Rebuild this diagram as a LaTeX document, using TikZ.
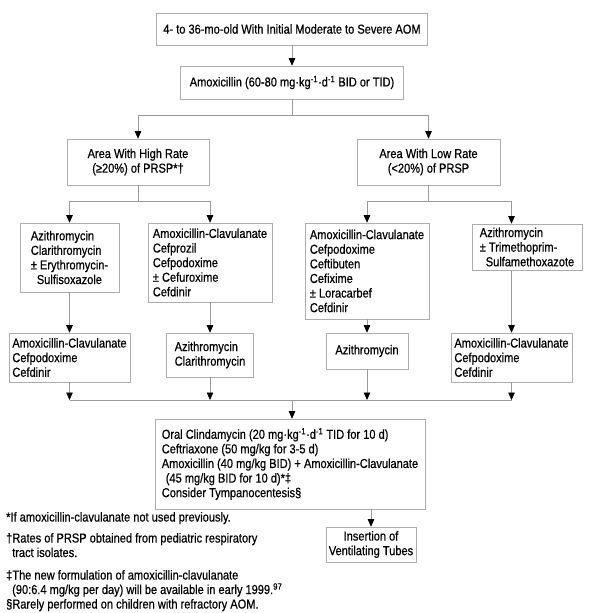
\documentclass[tikz,border=0pt]{standalone}
\usepackage{fontspec}
\setmainfont{Liberation Sans}[FakeStretch=0.85,FakeBold=0.6]
\usetikzlibrary{arrows.meta}
\definecolor{framegray}{gray}{0.68}
\definecolor{wiregray}{gray}{0.6}

\begin{document}
\begin{tikzpicture}[
    x=1pt, y=-1pt,
    box/.style={draw=framegray, line width=0.6pt, inner sep=0pt, align=center, font=\fontsize{13}{14.6}\selectfont},
    list/.style={box, align=left},
    wire/.style={draw=wiregray, line width=0.6pt},
    arr/.style={wire, -{Triangle[width=6.5pt,length=7.5pt,black]}},
    note/.style={inner sep=0pt, anchor=base west, font=\fontsize{13}{14.6}\selectfont},
]
\useasboundingbox (0,0) rectangle (590,613);

% Start
\node[box, minimum width=271, minimum height=32] (top) at (292,29) {4- to 36-mo-old With Initial Moderate to Severe AOM};
\node[box, minimum width=223, minimum height=33] (amox) at (292,82.5) {Amoxicillin (60-80 mg·kg\textsuperscript{-1}·d\textsuperscript{-1} BID or TID)};

% PRSP rate
\node[box, minimum width=142, minimum height=46] (high) at (138,162) {Area With High Rate\\(≥20\%) of PRSP*†};
\node[box, minimum width=143, minimum height=46] (low) at (428.5,162) {Area With Low Rate\\(<20\%) of PRSP};

% First choice
\node[list, minimum width=99, minimum height=69] (L1) at (69.5,257.5) {Azithromycin\\Clarithromycin\\± Erythromycin-\\\hspace*{6pt}Sulfisoxazole};
\node[list, minimum width=124, minimum height=79] (L2) at (210,262.5) {Amoxicillin-Clavulanate\\Cefprozil\\Cefpodoxime\\± Cefuroxime\\Cefdinir};
\node[list, minimum width=124, minimum height=96] (R1) at (367,271) {Amoxicillin-Clavulanate\\Cefpodoxime\\Ceftibuten\\Cefixime\\± Loracarbef\\Cefdinir};
\node[list, minimum width=110, minimum height=46] (R2) at (527,247) {Azithromycin\\± Trimethoprim-\\\hspace*{6pt}Sulfamethoxazote};

% Second choice
\node[list, minimum width=121, minimum height=49] (B1) at (69.5,357.5) {Amoxicillin-Clavulanate\\Cefpodoxime\\Cefdinir};
\node[list, minimum width=87, minimum height=44] (B2) at (210,355) {Azithromycin\\Clarithromycin};
\node[box, minimum width=82, minimum height=36] (B3) at (367,351) {Azithromycin};
\node[list, minimum width=121, minimum height=49] (B4) at (511.5,357.5) {Amoxicillin-Clavulanate\\Cefpodoxime\\Cefdinir};

% Failure
\node[list, minimum width=270, minimum height=90] (final) at (290,464) {Oral Clindamycin (20 mg·kg\textsuperscript{-1}·d\textsuperscript{-1} TID for 10 d)\\Ceftriaxone (50 mg/kg for 3-5 d)\\Amoxicillin (40 mg/kg BID) + Amoxicillin-Clavulanate\\\hspace*{4pt}(45 mg/kg BID for 10 d)*‡\\Consider Tympanocentesis§};
\node[box, minimum width=90, minimum height=35] (ins) at (371,544.5) {Insertion of\\Ventilating Tubes};

% Connectors
\draw[arr] (top) -- (amox);
\coordinate (fork1) at (292,115);
\draw[wire] (amox) -- (fork1);
\draw[arr] (fork1) -| (high);
\draw[arr] (fork1) -| (low);

\coordinate (fork2) at (138,201);
\coordinate (fork3) at (428.5,201);
\draw[wire] (high) -- (fork2);
\draw[wire] (low) -- (fork3);
\draw[arr] (fork2) -| (L1);
\draw[arr] (fork2) -| (L2);
\draw[arr] (fork3) -| (R1);
\draw[arr] (fork3) -| (R2.north -| B4);

\draw[arr] (L1) -- (B1);
\draw[arr] (L2) -- (B2);
\draw[arr] (R1) -- (B3);
\draw[arr] (R2.south -| B4) -- (B4);

\coordinate (join) at (292,400);
\foreach \b in {B1,B2,B3,B4} {
  \draw[arr] (\b) -- (\b |- join);
}
\draw[wire] (B1 |- join) -- (B4 |- join);
\draw[arr] (join) -- (join |- final.north);
\draw[arr] (final.south -| ins) -- (ins);

% Footnotes
\foreach \n/\x/\y/\txt in {
  1/6/521.5/{*If amoxicillin-clavulanate not used previously.},
  2/6/542.5/{†Rates of PRSP obtained from pediatric respiratory},
  3/12/557/{tract isolates.},
  4/6/579.5/{‡The new formulation of amoxicillin-clavulanate},
  5/12/594/{(90:6.4 mg/kg per day) will be available in early 1999.\textsuperscript{97}},
  6/6/608.5/{§Rarely performed on children with refractory AOM.}
}{
  \node[note] (fn\n) at (\x,\y) {\txt};
}
\end{tikzpicture}
\end{document}
